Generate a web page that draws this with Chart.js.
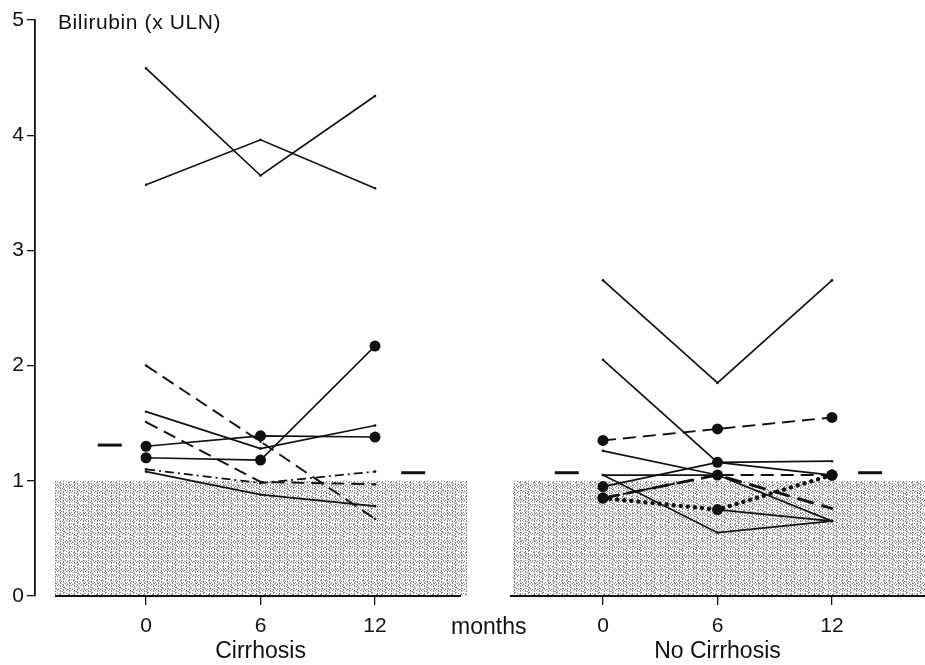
<!DOCTYPE html>
<html>
<head>
<meta charset="utf-8">
<script src="https://cdn.jsdelivr.net/npm/chart.js@4.4.0/dist/chart.umd.min.js"></script>
<style>
  html, body { margin: 0; padding: 0; background: #ffffff; }
  #wrap { position: relative; width: 925px; height: 665px; overflow: hidden; background: #fff; }
  #leftBox { position: absolute; left: 0; top: 0; width: 470px; height: 665px; }
  #rightBox { position: absolute; left: 465px; top: 0; width: 460px; height: 665px; }
  #months { position: absolute; left: 451px; top: 613px; font: 23px "Liberation Sans", Arial, sans-serif; color: #111; white-space: nowrap; }
</style>
</head>
<body>
<div id="wrap">
  <div id="leftBox"><canvas id="leftChart" width="470" height="665"></canvas></div>
  <div id="rightBox"><canvas id="rightChart" width="460" height="665"></canvas></div>
  <div id="months">months</div>
</div>
<script>
// ---------------- DATA ----------------
const months = [0, 6, 12];
const monthTicks = [0, 6, 12];
const yTicks = [0, 1, 2, 3, 4, 5];
const panelTitles = ["Cirrhosis", "No Cirrhosis"];
const yAxisTitle = "Bilirubin (x ULN)";
const normalRange = [0, 1];          // ULN shaded band (x ULN)

// Cirrhosis patients (bilirubin x ULN at 0, 6, 12 months)
const cirP1 = [4.58, 3.65, 4.34];
const cirP2 = [3.57, 3.96, 3.54];
const cirP3 = [1.30, 1.39, 1.38];
const cirP4 = [1.20, 1.18, 2.17];
const cirP5 = [1.60, 1.28, 1.48];
const cirP6 = [2.00, 1.34, 0.67];
const cirP7 = [1.51, 0.99, 0.97];
const cirP8 = [1.10, 0.98, 1.08];
const cirP9 = [1.08, 0.88, 0.78];
const cirMean = [1.31, 1.07];        // mean at 0 and 12 months

// No cirrhosis patients
const nocP1 = [2.74, 1.85, 2.74];
const nocP2 = [2.05, 1.16, 1.17];
const nocP3 = [1.26, 1.05, 0.65];
const nocP4 = [1.05, 0.55, 0.65];
const nocP5 = [0.85, 0.75, 1.05];
const nocP6 = [1.35, 1.45, 1.55];
const nocP7 = [0.95, 1.16, 1.05];
const nocP8 = [0.85, 1.05, 1.05];
const nocP9 = [0.85, 1.05, 0.76];
const nocP10 = [1.05, 1.05, null];
const nocP11 = [null, 0.75, 0.65];
const nocMean = [1.07, 1.07];

// ---------------- STYLES / LAYOUT ----------------
const STYLE = {
  solid:    { dash: [], width: 1.7, cap: 'butt' },
  dashed:   { dash: [13, 7], width: 1.9, cap: 'butt' },
  dashdot:  { dash: [9, 4, 2, 4], width: 1.8, cap: 'butt' },
  dotted:   { dash: [0.1, 7], width: 4.4, cap: 'round' },
  longdash: { dash: [17, 8], width: 2.7, cap: 'butt' }
};
const meanMarkerMonths = [-1.9, 14.0];
const titleMonth = 6;
const LEFT = { xMin: -5.82, xMax: 16.82, band: [-4.77, 16.82], base: [-4.77, 16.5] };
const RIGHT = { xMin: -4.874, xMax: 16.876, band: [-4.72, 16.876], base: [-4.874, 16.876] };
const FONT = '"Liberation Sans", Arial, sans-serif';

// stipple texture for the normal range (deterministic dot layout)
function makeStipple() {
  const n = 14;
  const c = document.createElement('canvas');
  c.width = n; c.height = n;
  const g = c.getContext('2d');
  g.fillStyle = '#ffffff';
  g.fillRect(0, 0, n, n);
  for (let y = 0; y < n; y++) {
    for (let x = 0; x < n; x++) {
      const h = (x * x * 5 + y * y * 3 + x * y * 11 + x * 7 + y * 13) % 9;
      if (h === 0) { g.fillStyle = '#888888'; g.fillRect(x, y, 1, 1); }
      else if (h === 4 || h === 7) { g.fillStyle = '#c9c9c9'; g.fillRect(x, y, 1, 1); }
    }
  }
  return g.createPattern(c, 'repeat');
}
const stipple = makeStipple();

function series(values, style, dots) {
  const st = STYLE[style];
  return {
    data: months.map((m, i) => ({ x: m, y: values[i] })),
    borderColor: '#111',
    backgroundColor: '#111',
    borderWidth: st.width,
    borderDash: st.dash,
    borderCapStyle: st.cap,
    pointRadius: dots ? 5.5 : 1.3,
    pointBorderWidth: 0,
    pointBackgroundColor: '#111',
    spanGaps: false,
    tension: 0,
    fill: false,
    order: 1
  };
}
function bandDataset(range) {
  return {
    data: range.map(x => ({ x: x, y: normalRange[1] })),
    borderWidth: 0, pointRadius: 0, fill: 'origin',
    backgroundColor: stipple, borderColor: 'rgba(0,0,0,0)', order: 10
  };
}
function baseDataset(range) {
  return {
    data: range.map(x => ({ x: x, y: normalRange[0] })),
    borderWidth: 2, borderColor: '#111', pointRadius: 0, fill: false, clip: false, order: 2
  };
}
function meanDataset(vals) {
  return {
    data: meanMarkerMonths.map((m, i) => ({ x: m, y: vals[i] })),
    showLine: false, pointStyle: 'line', pointRadius: 12, pointBorderWidth: 3,
    borderColor: '#111', pointBorderColor: '#111', clip: false, order: 1
  };
}

function textPlugin(panelTitle, showYTitle) {
  return {
    id: 'panelText',
    afterDraw(chart) {
      const ctx = chart.ctx;
      const xs = chart.scales.x;
      ctx.save();
      ctx.fillStyle = '#111';
      ctx.textBaseline = 'middle';
      ctx.textAlign = 'center';
      ctx.font = '23px ' + FONT;
      ctx.fillText(panelTitle, xs.getPixelForValue(titleMonth), 652);
      if (showYTitle) {
        ctx.font = '21px ' + FONT;
        try { ctx.letterSpacing = '0.6px'; } catch (e) {}
        ctx.textAlign = 'left';
        ctx.fillText(yAxisTitle, 58, 23);
      }
      ctx.restore();
    }
  };
}

function makeOptions(cfg, showY) {
  return {
    responsive: false,
    animation: false,
    events: [],
    layout: { autoPadding: false, padding: { left: showY ? 0 : 45, right: showY ? 3 : 0, top: 20, bottom: 0 } },
    plugins: { legend: { display: false }, tooltip: { enabled: false } },
    scales: {
      x: {
        type: 'linear', min: cfg.xMin, max: cfg.xMax,
        afterFit(s) { s.height = 69; s.paddingLeft = 0; s.paddingRight = 0; },
        afterBuildTicks(s) { s.ticks = monthTicks.map(v => ({ value: v })); },
        grid: { drawOnChartArea: false, drawTicks: true, tickLength: 9, color: '#111', lineWidth: 1.3 },
        border: { display: false },
        ticks: { color: '#111', font: { family: FONT, size: 21 }, padding: 9, maxRotation: 0, autoSkip: false,
                 callback: v => String(v) },
        title: { display: false }
      },
      y: {
        type: 'linear', min: 0, max: 5, display: showY,
        afterFit(s) { s.width = showY ? 35 : 0; s.paddingTop = 0; s.paddingBottom = 0; },
        afterBuildTicks(s) { s.ticks = yTicks.map(v => ({ value: v })); },
        grid: { drawOnChartArea: false, drawTicks: true, tickLength: 8, color: '#111', lineWidth: 1.3 },
        border: { display: true, color: '#111', width: 1.8 },
        ticks: { color: '#111', font: { family: FONT, size: 21 }, padding: 3 }
      }
    }
  };
}

new Chart(document.getElementById('leftChart'), {
  type: 'line',
  data: {
    datasets: [
      series(cirP1, 'solid', false),
      series(cirP2, 'solid', false),
      series(cirP3, 'solid', true),
      series(cirP4, 'solid', true),
      series(cirP5, 'solid', false),
      series(cirP6, 'dashed', false),
      series(cirP7, 'dashed', false),
      series(cirP8, 'dashdot', false),
      series(cirP9, 'solid', false),
      meanDataset(cirMean),
      baseDataset(LEFT.base),
      bandDataset(LEFT.band)
    ]
  },
  options: makeOptions(LEFT, true),
  plugins: [textPlugin(panelTitles[0], true)]
});

new Chart(document.getElementById('rightChart'), {
  type: 'line',
  data: {
    datasets: [
      series(nocP1, 'solid', false),
      series(nocP2, 'solid', false),
      series(nocP3, 'solid', false),
      series(nocP4, 'solid', false),
      series(nocP5, 'dotted', true),
      series(nocP6, 'dashed', true),
      series(nocP7, 'solid', true),
      series(nocP8, 'dashed', true),
      series(nocP9, 'longdash', false),
      series(nocP10, 'solid', false),
      series(nocP11, 'solid', false),
      meanDataset(nocMean),
      baseDataset(RIGHT.base),
      bandDataset(RIGHT.band)
    ]
  },
  options: makeOptions(RIGHT, false),
  plugins: [textPlugin(panelTitles[1], false)]
});
</script>
</body>
</html>
